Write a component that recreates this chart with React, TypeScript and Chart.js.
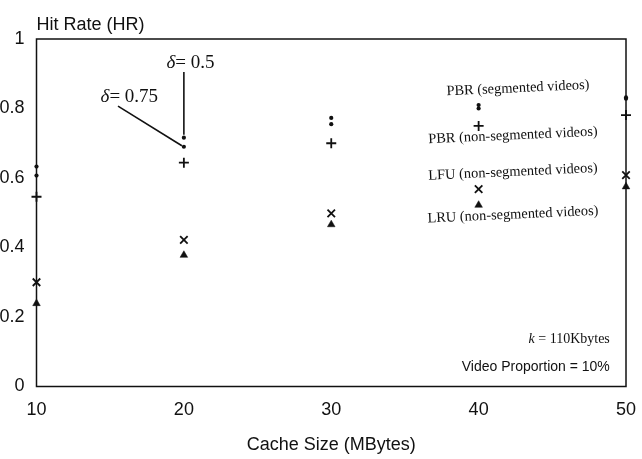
import { useEffect, useRef } from "react";
import { Chart, registerables } from "chart.js";

Chart.register(...registerables);

// ---- data ----
const cacheSizes = [10, 20, 30, 40, 50];
const pbrSegDelta05 = [0.633, 0.716, 0.773, 0.81, 0.832];
const pbrSegDelta075 = [0.607, 0.69, 0.755, 0.8, 0.828];
const pbrNonSeg = [0.546, 0.644, 0.7, 0.75, 0.781];
const lfuNonSeg = [0.3, 0.422, 0.498, 0.568, 0.608];
const lruNonSeg = [0.239, 0.378, 0.466, 0.522, 0.575];
const xTicks = [10, 20, 30, 40, 50];
const yTicks = [0, 0.2, 0.4, 0.6, 0.8, 1];
const seriesLabels = [
  "PBR (segmented videos)",
  "PBR (non-segmented videos)",
  "LFU (non-segmented videos)",
  "LRU (non-segmented videos)",
];

const INK = "#111";
const SANS = '"Liberation Sans", Arial, sans-serif';
const SERIF = '"Liberation Serif", "Times New Roman", serif';

const toPts = (vals: number[]) => cacheSizes.map((x, i) => ({ x, y: vals[i] }));

function drawMixed(
  ctx: CanvasRenderingContext2D,
  italicPart: string,
  rest: string,
  size: number,
  x: number,
  y: number,
  align: "center" | "right"
) {
  ctx.font = `italic ${size}px ${SERIF}`;
  const w1 = ctx.measureText(italicPart).width;
  ctx.font = `${size}px ${SERIF}`;
  const w2 = ctx.measureText(rest).width;
  const total = w1 + w2;
  const start = align === "center" ? x - total / 2 : x - total;
  ctx.textAlign = "left";
  ctx.textBaseline = "middle";
  ctx.font = `italic ${size}px ${SERIF}`;
  ctx.fillText(italicPart, start, y);
  ctx.font = `${size}px ${SERIF}`;
  ctx.fillText(rest, start + w1, y);
}

const annotationPlugin = {
  id: "annotations",
  afterDraw(chart: any) {
    const { ctx, chartArea: a, scales } = chart;
    const xs = scales.x;
    const ys = scales.y;
    const px = (v: number) => xs.getPixelForValue(v);
    const py = (v: number) => ys.getPixelForValue(v);
    ctx.save();

    // frame
    ctx.strokeStyle = INK;
    ctx.lineWidth = 1.5;
    ctx.strokeRect(a.left, a.top, a.right - a.left, a.bottom - a.top);

    // axis titles
    ctx.fillStyle = INK;
    ctx.font = `18px ${SANS}`;
    ctx.textAlign = "left";
    ctx.textBaseline = "alphabetic";
    ctx.fillText("Hit Rate (HR)", a.left, a.top - 9);
    ctx.textAlign = "center";
    ctx.fillText("Cache Size (MBytes)", (a.left + a.right) / 2, a.bottom + 63);

    // delta callouts at 20 MBytes
    const x20 = px(cacheSizes[1]);
    const yUp = py(pbrSegDelta05[1]);
    const yLo = py(pbrSegDelta075[1]);
    ctx.lineWidth = 1.6;
    ctx.beginPath();
    ctx.moveTo(x20, yUp - 3);
    ctx.lineTo(x20, py(0.905));
    ctx.stroke();
    ctx.beginPath();
    ctx.moveTo(px(15.53), py(0.807));
    ctx.lineTo(x20 - 2, yLo - 1);
    ctx.stroke();
    drawMixed(ctx, "\u03b4", "= 0.5", 19, px(20.45), py(0.931), "center");
    drawMixed(ctx, "\u03b4", "= 0.75", 19, px(16.3), py(0.833), "center");

    // series labels (slightly rotated)
    const labelPos = [
      { x: 42.67, y: 0.858 },
      { x: 42.33, y: 0.722 },
      { x: 42.33, y: 0.617 },
      { x: 42.33, y: 0.494 },
    ];
    ctx.font = `14.4px ${SERIF}`;
    ctx.textAlign = "center";
    ctx.textBaseline = "middle";
    seriesLabels.forEach((t, i) => {
      ctx.save();
      ctx.translate(px(labelPos[i].x), py(labelPos[i].y));
      ctx.rotate((-2.6 * Math.PI) / 180);
      ctx.fillText(t, 0, 0);
      ctx.restore();
    });

    // parameter notes
    drawMixed(ctx, "k", " = 110Kbytes", 14, px(48.9), py(0.137), "right");
    ctx.font = `14px ${SANS}`;
    ctx.textAlign = "right";
    ctx.textBaseline = "middle";
    ctx.fillText("Video Proportion = 10%", px(48.9), py(0.056));

    ctx.restore();
  },
};

export default function App() {
  const ref = useRef<HTMLCanvasElement | null>(null);

  useEffect(() => {
    if (!ref.current) return;
    const common = { showLine: false, borderColor: INK, backgroundColor: INK, clip: false };
    const chart = new Chart(ref.current, {
      type: "scatter",
      data: {
        datasets: [
          { ...common, label: "PBR seg d=0.5", data: toPts(pbrSegDelta05), pointStyle: "circle", pointRadius: 2.1, pointBorderWidth: 0 },
          { ...common, label: "PBR seg d=0.75", data: toPts(pbrSegDelta075), pointStyle: "circle", pointRadius: 2.1, pointBorderWidth: 0 },
          { ...common, label: seriesLabels[1], data: toPts(pbrNonSeg), pointStyle: "cross", pointRadius: 5, pointBorderWidth: 1.8 },
          { ...common, label: seriesLabels[2], data: toPts(lfuNonSeg), pointStyle: "crossRot", pointRadius: 5.3, pointBorderWidth: 1.8 },
          { ...common, label: seriesLabels[3], data: toPts(lruNonSeg), pointStyle: "triangle", pointRadius: 4.4, pointBorderWidth: 0.5 },
        ] as any,
      },
      options: {
        animation: false,
        responsive: false,
        events: [],
        layout: { padding: { top: 39, right: 16, left: 0, bottom: 0 } },
        plugins: { legend: { display: false }, tooltip: { enabled: false }, title: { display: false } },
        scales: {
          x: {
            type: "linear",
            min: xTicks[0],
            max: xTicks[xTicks.length - 1],
            afterBuildTicks: (s: any) => { s.ticks = xTicks.map((v) => ({ value: v })); },
            afterFit: (s: any) => { s.height = 72.5; s.paddingLeft = 0; s.paddingRight = 0; },
            grid: { display: false, drawTicks: false },
            border: { display: false },
            ticks: { color: INK, font: { size: 18, family: SANS }, padding: 13, maxRotation: 0 },
          },
          y: {
            type: "linear",
            min: yTicks[0],
            max: yTicks[yTicks.length - 1],
            afterBuildTicks: (s: any) => { s.ticks = yTicks.map((v) => ({ value: v })); },
            afterFit: (s: any) => { s.width = 36.5; s.paddingTop = 0; s.paddingBottom = 0; },
            grid: { display: false, drawTicks: false },
            border: { display: false },
            ticks: {
              color: INK,
              font: { size: 18, family: SANS },
              padding: 12,
              callback: (v: any) => String(parseFloat(Number(v).toFixed(1))),
            },
          },
        },
      } as any,
      plugins: [annotationPlugin],
    });
    return () => chart.destroy();
  }, []);

  return (
    <div style={{ position: "absolute", left: 0, top: 0, width: 642, height: 459, background: "#fff" }}>
      <canvas ref={ref} width={642} height={459} style={{ display: "block" }} />
    </div>
  );
}
